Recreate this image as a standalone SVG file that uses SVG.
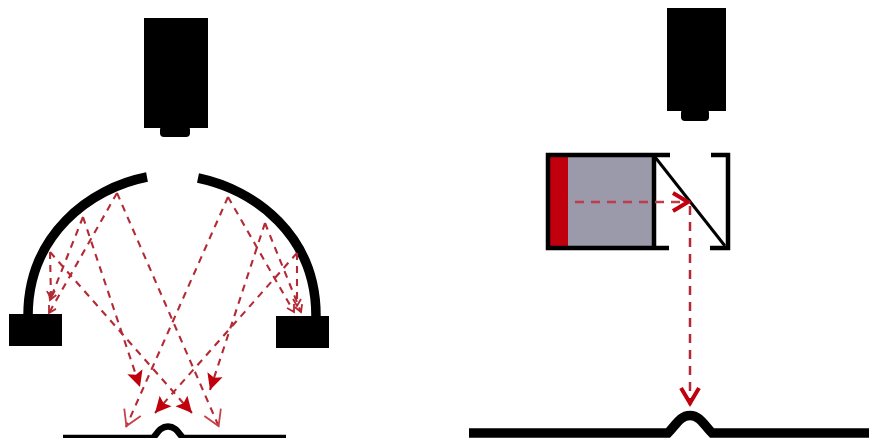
<svg xmlns="http://www.w3.org/2000/svg" width="869" height="441" viewBox="0 0 869 441">
<style>
.k{fill:#000}
.m{fill:none;stroke:#000;stroke-width:9.5}
.b{fill:none;stroke:#000;stroke-width:4.5}
.r{fill:none;stroke:#b32a35;stroke-width:2.1;stroke-dasharray:7 6}
.rf{marker-end:url(#solid)}
.ro{marker-end:url(#open)}
.rs{marker-end:url(#small)}
.rb{marker-end:url(#big)}
</style>
<defs>
<filter id="soft" x="0" y="0" width="100%" height="100%"><feGaussianBlur stdDeviation="0.5"/></filter>
<marker id="solid" markerUnits="userSpaceOnUse" markerWidth="24" markerHeight="24" refX="18" refY="10" orient="auto" viewBox="0 0 24 20">
<path d="M2 2L18 10L2 18L5 10Z" fill="#c00010"/>
</marker>
<marker id="big" markerUnits="userSpaceOnUse" markerWidth="26" markerHeight="26" refX="20" refY="11" orient="auto" viewBox="0 0 26 22">
<path d="M3 2L18 11L3 20" fill="none" stroke="#c00010" stroke-width="4"/>
</marker>
<marker id="open" markerUnits="userSpaceOnUse" markerWidth="24" markerHeight="24" refX="18" refY="10" orient="auto" viewBox="0 0 24 20">
<path d="M2 1L17 10L2 19" fill="none" stroke="#c8404a" stroke-width="1.8"/>
</marker>
<marker id="small" markerUnits="userSpaceOnUse" markerWidth="12" markerHeight="12" refX="9" refY="5" orient="auto" viewBox="0 0 12 10">
<path d="M2 1L9 5L2 9" fill="none" stroke="#b32a35" stroke-width="1.8"/>
</marker>
</defs>
<rect width="869" height="441" fill="#fff"/>
<g filter="url(#soft)">
<g id="camera-left">
<rect class="k" x="144" y="18" width="64" height="110"/>
<rect class="k" x="160" y="126" width="30" height="11" rx="4"/>
</g>
<g id="mirror-left">
<path class="m" d="M147 177C90 188 28 235 28 316"/>
<path class="m" d="M198 178C255 190 316 235 316 316"/>
</g>
<g id="detector-left"><rect class="k" x="9" y="314" width="53" height="32"/></g>
<g id="detector-right"><rect class="k" x="276" y="316" width="53" height="32"/></g>
<g id="sample-left"><path class="m" style="stroke-width:6.5" d="M63 438H153C158 432 161 426.5 168 426.5C175 426.5 178 432 183 438H286"/></g>
<g id="camera-right">
<rect class="k" x="667" y="8" width="59" height="103"/>
<rect class="k" x="681" y="109" width="28" height="12" rx="4"/>
</g>
<g id="source-box">
<rect x="550" y="157" width="103" height="90" fill="#9a9aab"/>
<rect x="550" y="157" width="18" height="90" fill="#c00010"/>
<path class="b" d="M670 155H548V248H669M654 155V248"/>
<path class="b" d="M711 155H728V248H710"/>
<path d="M655 157L725 246" stroke="#000" stroke-width="3" fill="none"/>
</g>
<g id="sample-right"><path class="m" d="M469 433H668C676 425 680 415.5 690 415.5C700 415.5 704 425 712 433H869"/></g>
<g id="connectors">
<path class="r ro" d="M117 193L219 427"/>
<path class="r rs" d="M117 193L49 313"/>
<path class="r rf" d="M83 217L140 387"/>
<path class="r rs" d="M83 217L50 300"/>
<path class="r rf" d="M50 252L192 413"/>
<path class="r rs" d="M50 252L51 298"/>
<path class="r ro" d="M228 197L126 427"/>
<path class="r rs" d="M228 197L294 312"/>
<path class="r rf" d="M265 223L210 390"/>
<path class="r rs" d="M265 223L301 312"/>
<path class="r rf" d="M297 253L155 413"/>
<path class="r rs" d="M297 253L297 306"/>
<path class="r rb" style="stroke:#c23a48;stroke-width:2.5;stroke-dasharray:9 7" d="M575 202H690"/>
<path class="r rb" style="stroke-width:2.5;stroke-dasharray:9 7" d="M690 206V405"/>
</g>
</g>
</svg>
